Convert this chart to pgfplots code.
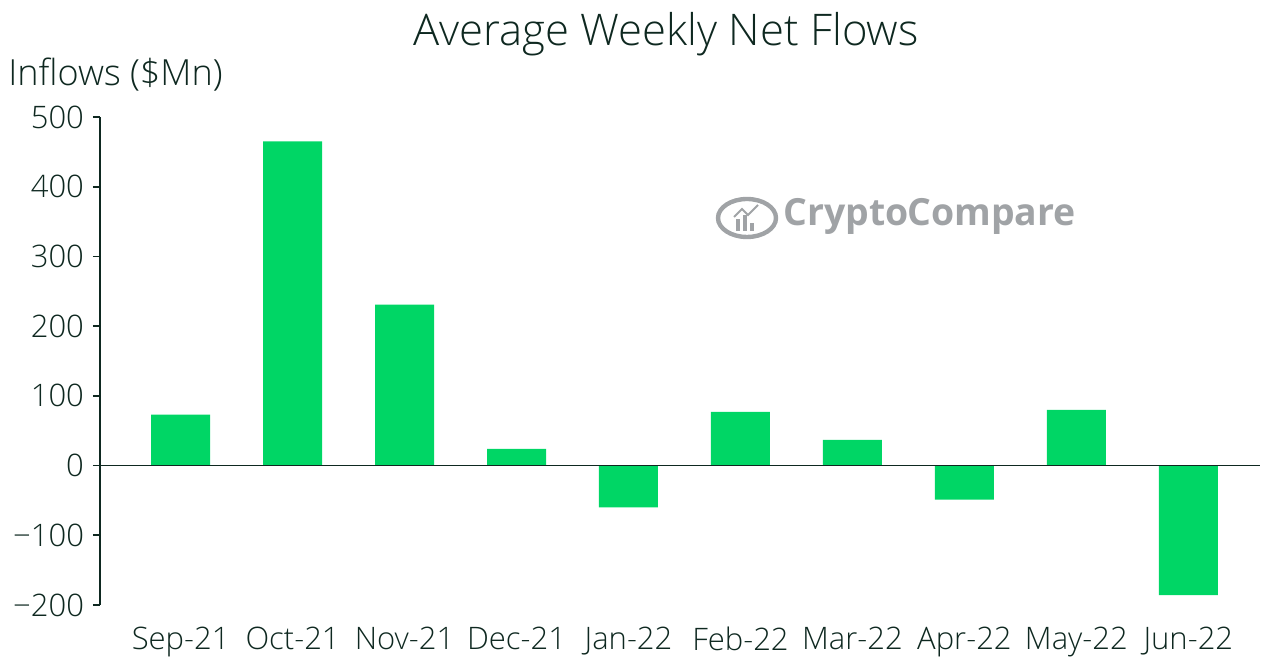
\documentclass[border=0pt]{standalone}
\usepackage{pgfplots}
\pgfplotsset{compat=1.18}
\usepackage{fontspec}
\setmainfont{Open Sans}[UprightFont={* Light}]
\newfontfamily\boldsans{Open Sans}[UprightFont={* Bold}]
\definecolor{txt}{RGB}{14,40,32}
\definecolor{bargreen}{RGB}{0,214,101}
\definecolor{wm}{RGB}{160,163,166}
\begin{document}
\begin{tikzpicture}
\path[use as bounding box] (-50pt,-28.5pt) rectangle (587pt,302.5pt);
\begin{axis}[
  at={(0pt,0pt)}, anchor=south west,
  scale only axis, width=580pt, height=244pt,
  xmin=-0.72, xmax=9.64, ymin=-200, ymax=500,
  axis y line*=left, axis x line*=bottom,
  x axis line style={draw=none},
  y axis line style={draw=txt, line width=0.8pt},
  xtick={0,...,9},
  xticklabels={Sep-21,Oct-21,Nov-21,Dec-21,Jan-22,Feb-22,Mar-22,Apr-22,May-22,Jun-22},
  ytick={-200,-100,0,100,200,300,400,500},
  yticklabels={−200,−100,0,100,200,300,400,500},
  major x tick style={draw=none},
  major y tick style={draw=txt, line width=0.8pt},
  tick align=outside, major tick length=3.5pt,
  ticklabel style={font=\fontsize{15.5}{18}\selectfont, text=txt},
  xticklabel style={yshift=-4pt},
  yticklabel style={xshift=-1pt},
  clip=false,
]
\addplot[ybar, bar width=29.5pt, fill=bargreen, draw=none] coordinates {
(0,73) (1,465) (2,231) (3,24) (4,-60) (5,77) (6,37) (7,-49) (8,80) (9,-186)
};
\draw[txt, line width=0.8pt] (axis cs:-0.72,0) -- (axis cs:9.64,0);
\end{axis}
\node[text=txt, font=\fontsize{21.8}{26}\selectfont] at (283pt,285.5pt) {Average Weekly Net Flows};
\node[text=txt, font=\fontsize{18}{21}\selectfont, anchor=west, inner sep=0pt] at (-46pt,265pt) {Inflows (\$Mn)};
\draw[wm, line width=2.2pt] (323.5pt,193.5pt) ellipse (14.5pt and 9.5pt);
\fill[wm] (318pt,187pt) rectangle (320pt,193pt);
\fill[wm] (321.5pt,187pt) rectangle (323.5pt,195pt);
\fill[wm] (325pt,187pt) rectangle (327pt,191pt);
\draw[wm, line width=1pt] (317pt,194pt) -- (321pt,198pt) -- (324pt,195pt) -- (329pt,200pt);
\node[text=wm, font=\boldsans\fontsize{18.7}{22}\selectfont, anchor=west, inner sep=0pt] at (341.5pt,194.5pt) {Crypto\kern-0.5pt Compare};
\end{tikzpicture}
\end{document}
